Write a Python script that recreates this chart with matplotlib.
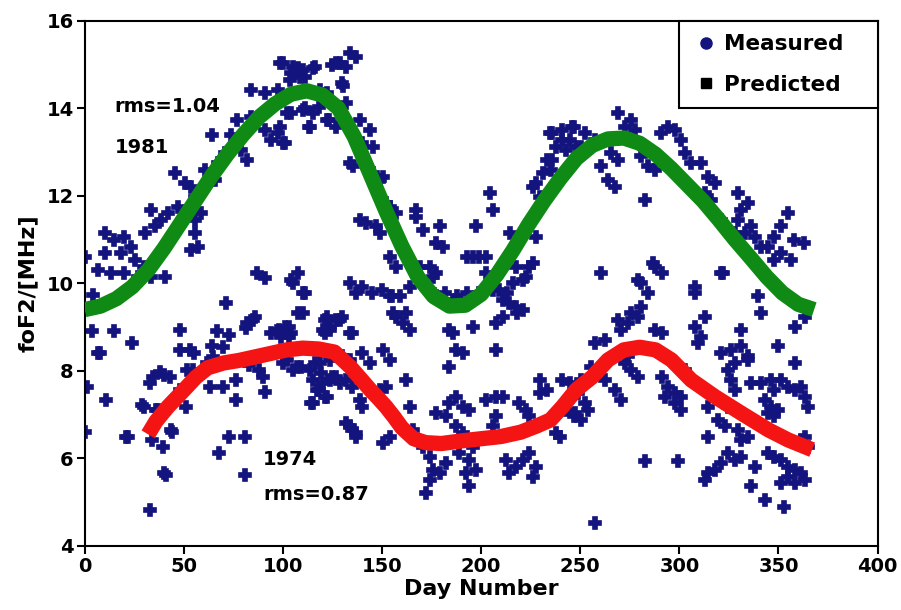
import matplotlib
matplotlib.use('Agg')
import matplotlib.pyplot as plt
from matplotlib.lines import Line2D

plt.rcParams['font.family'] = ['DejaVu Sans']
plt.rcParams['font.weight'] = 'bold'

# measured foF2 (day, MHz), 1981
meas_1981 = [
    (100, 15.03), (107.6, 14.92), (116, 14.95), (111, 14.72), (104, 14.8), (125, 15.0),
    (84, 14.42), (91, 14.34), (97.5, 14.42),
    (104, 13.9), (111, 14.0), (118, 14.04), (123, 13.73), (113, 13.58),
    (77, 13.73), (84, 13.81), (64, 13.39),
    (91, 13.5), (97.5, 13.43), (101, 13.2), (94, 13.28),
    (74, 13.39), (79, 13.05), (82, 12.82), (70.6, 12.97), (67, 12.74), (60.5, 12.59),
    (65.5, 12.36), (59, 12.13), (55.5, 11.98),
    (45.4, 12.52), (50.4, 12.29), (53.8, 12.21),
    (33.6, 11.68), (38.7, 11.45), (42, 11.6), (47, 11.75), (35.3, 11.3), (30.3, 11.14),
    (55.5, 11.45), (58.8, 11.6), (55.5, 11.14), (57, 10.84), (53.8, 10.76),
    (10, 11.14), (15, 10.99), (20, 11.07), (23.5, 10.84), (18.5, 10.69), (25.2, 10.53),
    (10, 10.69), (6.7, 10.3), (13.4, 10.23), (20, 10.23), (27, 10.15), (33.6, 10.15),
    (40.3, 10.15), (30, 10.38), (0, 10.61),
    (87, 10.23), (91, 10.12), (107.6, 10.23), (104, 10.08),
    (4, 9.74), (71.5, 9.55), (86, 9.24), (82, 9.09), (111, 9.78), (107.6, 9.32),
    (105, 10.0), (110, 9.78),
    (98.4, 15.04), (105, 14.95), (110, 14.88), (115, 14.93), (108.5, 14.72), (103.4, 14.65),
    (118.5, 14.42), (122, 14.35),
    (102, 13.9), (98.4, 13.58), (100, 13.2),
    (110, 13.97), (115, 13.9), (113.5, 13.58), (122, 13.74), (127, 13.58),
    (132, 14.12), (138.7, 13.74), (143.8, 13.5), (140, 13.2), (145.4, 13.12),
    (133.7, 12.75), (145.4, 12.52), (149, 12.37),
    (130, 14.58), (132, 14.95), (128.6, 15.04), (137, 15.18), (133.7, 15.27), (127, 15.03),
    (130.3, 14.5), (135.4, 12.67), (150.5, 12.44),
    (152, 11.83), (157.2, 11.6), (142, 11.37), (147, 11.3), (148.8, 11.14), (139, 11.45),
    (154, 11.75), (167, 11.68), (167, 11.52), (170.7, 11.22), (179, 11.3), (177.4, 10.92),
    (180.7, 10.84),
    (153.9, 10.61), (157.2, 10.38), (174, 10.38), (177.4, 10.23), (164, 9.92), (169, 10.38),
    (175.6, 10.15),
    (140, 9.92), (145, 9.78), (150, 9.85), (155, 9.7),
    (204.3, 12.06), (206, 11.68), (197.6, 11.3), (196, 10.61), (202.6, 10.61), (192.7, 10.6),
    (199, 10.6),
    (214.4, 11.14), (219, 11.0), (227.8, 11.07), (226, 10.47), (222.5, 10.15), (216, 10.0),
    (213, 9.78), (206, 9.85), (199, 9.78), (192.7, 9.78), (187.6, 9.7),
    (202.8, 9.92), (209, 9.85),
    (227.8, 12.29), (229.5, 11.98), (226, 12.2), (231, 12.52), (233, 12.82), (235, 12.59),
    (236, 12.82), (241, 13.28), (243, 13.05),
    (236, 13.43), (241, 13.5), (244.6, 13.28), (246, 13.58), (238, 13.12), (248, 13.12),
    (234.6, 13.44),
    (217.7, 10.38), (224, 10.38), (221, 10.08), (202.6, 10.23),
    (133.7, 10.0), (137, 9.78), (154, 9.7), (159, 9.7), (157, 9.24), (160.6, 9.09),
    (164, 8.94), (162, 9.32), (155.5, 9.32), (127, 9.17), (130, 9.24), (133.7, 8.86),
    (184, 8.94), (186, 8.86), (196, 9.01), (207.6, 9.09), (211, 9.24), (217.7, 9.47),
    (214, 9.55), (211, 9.62), (218, 9.32), (221, 9.4),
    (174, 9.85), (187.5, 9.62), (177, 9.7), (182, 9.78),
    (110, 9.32), (122, 9.24), (128.6, 9.17), (123.6, 8.94), (120, 8.94), (98, 8.94),
    (103, 9.0), (135, 8.86),
    (269, 13.89), (275.8, 13.73), (272.4, 13.58), (277.5, 13.5), (247, 13.58), (252.2, 13.43),
    (250.6, 13.12), (257.3, 13.28),
    (260.6, 12.67), (264, 12.36), (267.4, 12.21), (265.7, 12.97), (269, 12.82),
    (280.8, 12.9), (284.2, 12.67), (287.5, 12.59),
    (294.3, 13.58), (297.6, 13.5), (301, 13.28), (290.9, 13.43), (302.7, 12.97), (306, 12.74),
    (311, 12.74), (314.4, 12.44), (317.8, 12.29), (312.7, 12.06), (316, 11.9),
    (329.6, 12.06), (334.6, 11.83), (331.2, 11.68), (329.6, 11.45), (333, 11.14), (336.3, 11.3),
    (354.8, 11.6), (351.4, 11.3), (348, 11.07), (358, 10.99), (363, 10.92), (344.7, 10.84),
    (351.4, 10.69), (356.4, 10.54), (348, 10.54),
    (282.5, 11.9), (321, 11.45), (327.9, 11.14), (338, 11.07), (341.3, 10.84),
    (287.5, 10.38), (291, 10.23), (260.6, 10.23), (321, 10.23), (279, 10.08), (307.7, 9.92),
    (286.5, 10.47), (322, 10.24),
    (280.8, 10.0), (284.2, 9.78), (280.8, 9.47), (279, 9.24), (274, 9.09), (270.7, 8.94),
    (269, 9.17), (275.8, 9.32),
    (307.7, 9.78), (312.7, 9.24), (307.7, 9.01), (311, 8.78), (309.4, 8.63), (287.5, 8.94),
    (291, 8.86),
    (339.6, 9.7), (341.3, 9.32), (358.1, 9.01), (363.2, 9.24), (331.2, 8.94),
]

# measured foF2 (day, MHz), 1974
meas_1974 = [
    (3.5, 8.9), (15, 8.9), (7.6, 8.41), (24, 8.64), (1, 7.64), (11, 7.34), (0, 6.6),
    (21, 6.49), (33, 4.82), (41, 5.62), (39.5, 6.26), (34, 6.42), (44, 6.6), (29, 7.22),
    (36, 7.1),
    (33, 7.73), (38, 7.98), (43, 7.86), (34.5, 7.86), (40, 7.9),
    (48, 8.94), (48, 8.48), (53, 8.48), (51.5, 8.02), (54.5, 8.02), (51, 7.18), (48, 7.57),
    (68, 6.12), (73, 6.49), (81, 6.49), (81, 5.62),
    (66.5, 8.9), (73, 8.82), (70, 8.55), (81.5, 8.98), (85, 9.17),
    (63, 7.64), (70, 7.64), (76.5, 7.79), (76.5, 7.34), (83, 8.14), (88, 8.02), (90, 7.86),
    (91, 7.52),
    (61.5, 8.18), (64.5, 8.32), (97, 8.9), (103, 8.78), (100, 8.18), (105, 8.02),
    (40, 5.66), (43.7, 6.65), (30, 7.18), (37, 7.11), (22, 6.5), (6.7, 8.4),
    (55, 8.4), (64, 8.56), (101, 9.01), (104, 8.86), (121, 9.17), (124, 9.01), (121, 8.86),
    (109, 8.1), (116, 8.18), (119, 7.95), (118, 7.57), (114, 7.26), (121, 7.41), (124, 7.8),
    (94, 8.86), (99, 8.78),
    (102, 8.25), (107, 8.1), (113.5, 8.02), (118.5, 8.18), (115, 7.8), (120, 7.72),
    (117, 7.57), (115, 7.27), (122, 7.41), (127, 7.87), (132, 7.8), (135, 7.64),
    (132, 6.81), (137, 6.49), (135, 6.65),
    (150.5, 8.48), (154, 8.25), (140, 8.4), (144, 8.17), (130, 8.33), (133.7, 8.25),
    (123.6, 8.25), (125, 7.87), (128.6, 7.72),
    (187.5, 8.48), (191, 8.4), (207.6, 8.48), (184, 8.1),
    (162, 7.8), (152, 7.64), (148.8, 7.57), (138.7, 7.34), (140, 7.18), (164, 7.18),
    (133.7, 6.73), (137, 6.58), (150.5, 6.35), (154, 6.5), (165.6, 6.65),
    (174, 6.04), (175.7, 5.74), (174, 5.51), (172, 5.2), (179, 5.66), (182.4, 5.89),
    (170.7, 6.27),
    (189, 6.12), (194, 5.97), (197.6, 5.74), (192.5, 5.66), (196, 6.27), (194, 5.36),
    (212.7, 5.97), (217.7, 5.81), (214, 5.66), (224, 6.12), (227.8, 5.81), (226, 5.58),
    (221, 5.97),
    (177.4, 7.03), (184, 7.26), (187.5, 7.41), (191, 7.18), (194, 7.11), (182.4, 6.96),
    (187.5, 6.73), (191, 6.58),
    (202.6, 7.34), (207.6, 7.41), (211, 7.41), (207.6, 6.96), (206, 6.73), (219, 7.26),
    (222.7, 7.11), (224, 6.96),
    (229.5, 7.8), (233, 7.57), (229.5, 7.49), (244.6, 7.72), (241, 7.8), (238, 6.58),
    (246, 7.41), (239.6, 6.49), (243, 7.1), (247, 6.96),
    (257.3, 8.63), (262.3, 8.71), (358.1, 8.18), (349.7, 8.56),
    (321.2, 8.4), (326.2, 8.48), (331.2, 8.56), (334.6, 8.33), (327.9, 8.18), (324.5, 8.02),
    (326.2, 7.79), (327.9, 7.57), (334.6, 8.25),
    (336.3, 7.72), (341.3, 7.72), (346.4, 7.79), (351.4, 7.79), (348, 7.57), (354.8, 7.64),
    (358.1, 7.57), (361.5, 7.64),
    (363.2, 7.41), (364.8, 7.18), (343, 7.34), (346.4, 7.18), (349.7, 7.11), (348, 6.96),
    (344.7, 7.03),
    (250.6, 7.8), (248.9, 7.49), (252.2, 7.26), (247.2, 7.03), (250.6, 6.88), (254, 7.11),
    (255.6, 8.1), (262.3, 7.8),
    (267.4, 7.57), (270.7, 7.34), (272.4, 8.18), (275.8, 8.02), (279.1, 7.87), (274, 8.33),
    (291, 7.87), (294.3, 7.64), (297.6, 7.49), (301, 7.41), (297.6, 7.26), (301, 7.11),
    (292.6, 7.41), (302.7, 8.02),
    (314.4, 7.18), (319.5, 6.88), (322.8, 6.73), (324.5, 7.18), (329.6, 6.65), (331.2, 6.42),
    (334.6, 6.5), (314.4, 6.5),
    (282.5, 5.93), (299.3, 5.93),
    (324.5, 6.12), (327.9, 5.97), (331.2, 6.04), (321.2, 5.89), (317.8, 5.74), (314.4, 5.66),
    (312.7, 5.51), (338, 5.81), (336.3, 5.36),
    (344.7, 6.12), (348, 6.04), (351.4, 5.97), (354.8, 5.81), (358.1, 5.74), (361.5, 5.66),
    (354.8, 5.58), (358.1, 5.43), (363.2, 5.51), (351.4, 5.43),
    (363.2, 6.5), (364.8, 6.27), (361.5, 6.42), (343, 5.05), (353, 4.9), (257.3, 4.52),
]

# predicted curves
pred_days_1981 = [0, 8, 16, 24, 32, 40, 48, 56, 64, 72, 80, 88, 96, 104, 112, 120, 128,
                  136, 144, 152, 160, 168, 176, 184, 192, 200, 208, 216, 224, 232, 240,
                  248, 256, 264, 272, 280, 288, 296, 304, 312, 320, 328, 336, 344, 352,
                  360, 368]
pred_1981 = [9.40, 9.48, 9.65, 9.92, 10.30, 10.80, 11.35, 11.90, 12.45, 12.95, 13.40,
             13.80, 14.10, 14.32, 14.40, 14.30, 14.00, 13.35, 12.50, 11.65, 10.85, 10.15,
             9.70, 9.48, 9.50, 9.75, 10.20, 10.75, 11.35, 11.90, 12.40, 12.85, 13.15,
             13.30, 13.32, 13.20, 12.95, 12.62, 12.25, 11.88, 11.45, 11.00, 10.58, 10.15,
             9.78, 9.52, 9.40]

pred_days_1974 = [32, 36, 42, 50, 56, 62, 70, 78, 86, 94, 102, 110, 118, 126, 134, 140,
                  144, 148, 152, 156, 160, 166, 172, 180, 190, 200, 210, 220, 228, 235,
                  241, 248, 256, 264, 272, 280, 288, 296, 306, 318, 331, 345, 355, 367]
pred_1974 = [6.55, 6.85, 7.18, 7.56, 7.85, 8.07, 8.18, 8.24, 8.32, 8.40, 8.48, 8.52,
             8.50, 8.43, 8.09, 7.78, 7.57, 7.38, 7.18, 6.95, 6.70, 6.45, 6.36, 6.34,
             6.40, 6.45, 6.50, 6.60, 6.74, 6.88, 7.18, 7.57, 7.86, 8.25, 8.48, 8.54,
             8.48, 8.25, 7.79, 7.41, 7.04, 6.65, 6.42, 6.20]

navy = '#14147e'

fig = plt.figure(figsize=(9.01, 6.10), dpi=100)
ax = fig.add_axes([0.094, 0.105, 0.880, 0.861])

for pts in (meas_1981, meas_1974):
    ax.plot([p[0] for p in pts], [p[1] for p in pts], ls='none', marker='P',
            ms=9, mew=1.2, color=navy, mec=navy, zorder=2)

ax.plot(pred_days_1981, pred_1981, color='#0f8a14', lw=11, solid_capstyle='butt',
        solid_joinstyle='round', zorder=3)
ax.plot(pred_days_1974, pred_1974, color='#f41414', lw=11, solid_capstyle='butt',
        solid_joinstyle='round', zorder=3)

ax.text(15, 14.03, 'rms=1.04', fontsize=14, fontweight='bold', va='center')
ax.text(15, 13.1, '1981', fontsize=14, fontweight='bold', va='center')
ax.text(90, 5.97, '1974', fontsize=14, fontweight='bold', va='center')
ax.text(90, 5.17, 'rms=0.87', fontsize=14, fontweight='bold', va='center')

ax.set_xlim(0, 400)
ax.set_ylim(4, 16)
ax.set_xticks(range(0, 401, 50))
ax.set_yticks(range(4, 17, 2))
ax.tick_params(axis='both', direction='out', length=6, width=1.5, labelsize=14,
               top=False, right=False, pad=2)
for lab in ax.get_xticklabels() + ax.get_yticklabels():
    lab.set_fontweight('bold')
for sp in ax.spines.values():
    sp.set_linewidth(1.5)

ax.set_xlabel('Day Number', fontsize=16, fontweight='bold', labelpad=2)
ax.set_ylabel('foF2/[MHz]', fontsize=16, fontweight='bold', labelpad=6)

handles = [Line2D([], [], ls='none', marker='o', ms=8, color=navy),
           Line2D([], [], ls='none', marker='s', ms=7, color='black')]
leg = ax.legend(handles, ['Measured', 'Predicted'], loc='upper right',
                bbox_to_anchor=(0.749, 0.0, 0.251, 1.0), mode='expand',
                frameon=True, fancybox=False, edgecolor='black', framealpha=1,
                borderaxespad=0, borderpad=0.62, labelspacing=0.95, handletextpad=0.15,
                handlelength=1.35, prop={'weight': 'bold', 'size': 15.5})
leg.get_frame().set_linewidth(1.5)

fig.savefig('out.png', dpi=100)
